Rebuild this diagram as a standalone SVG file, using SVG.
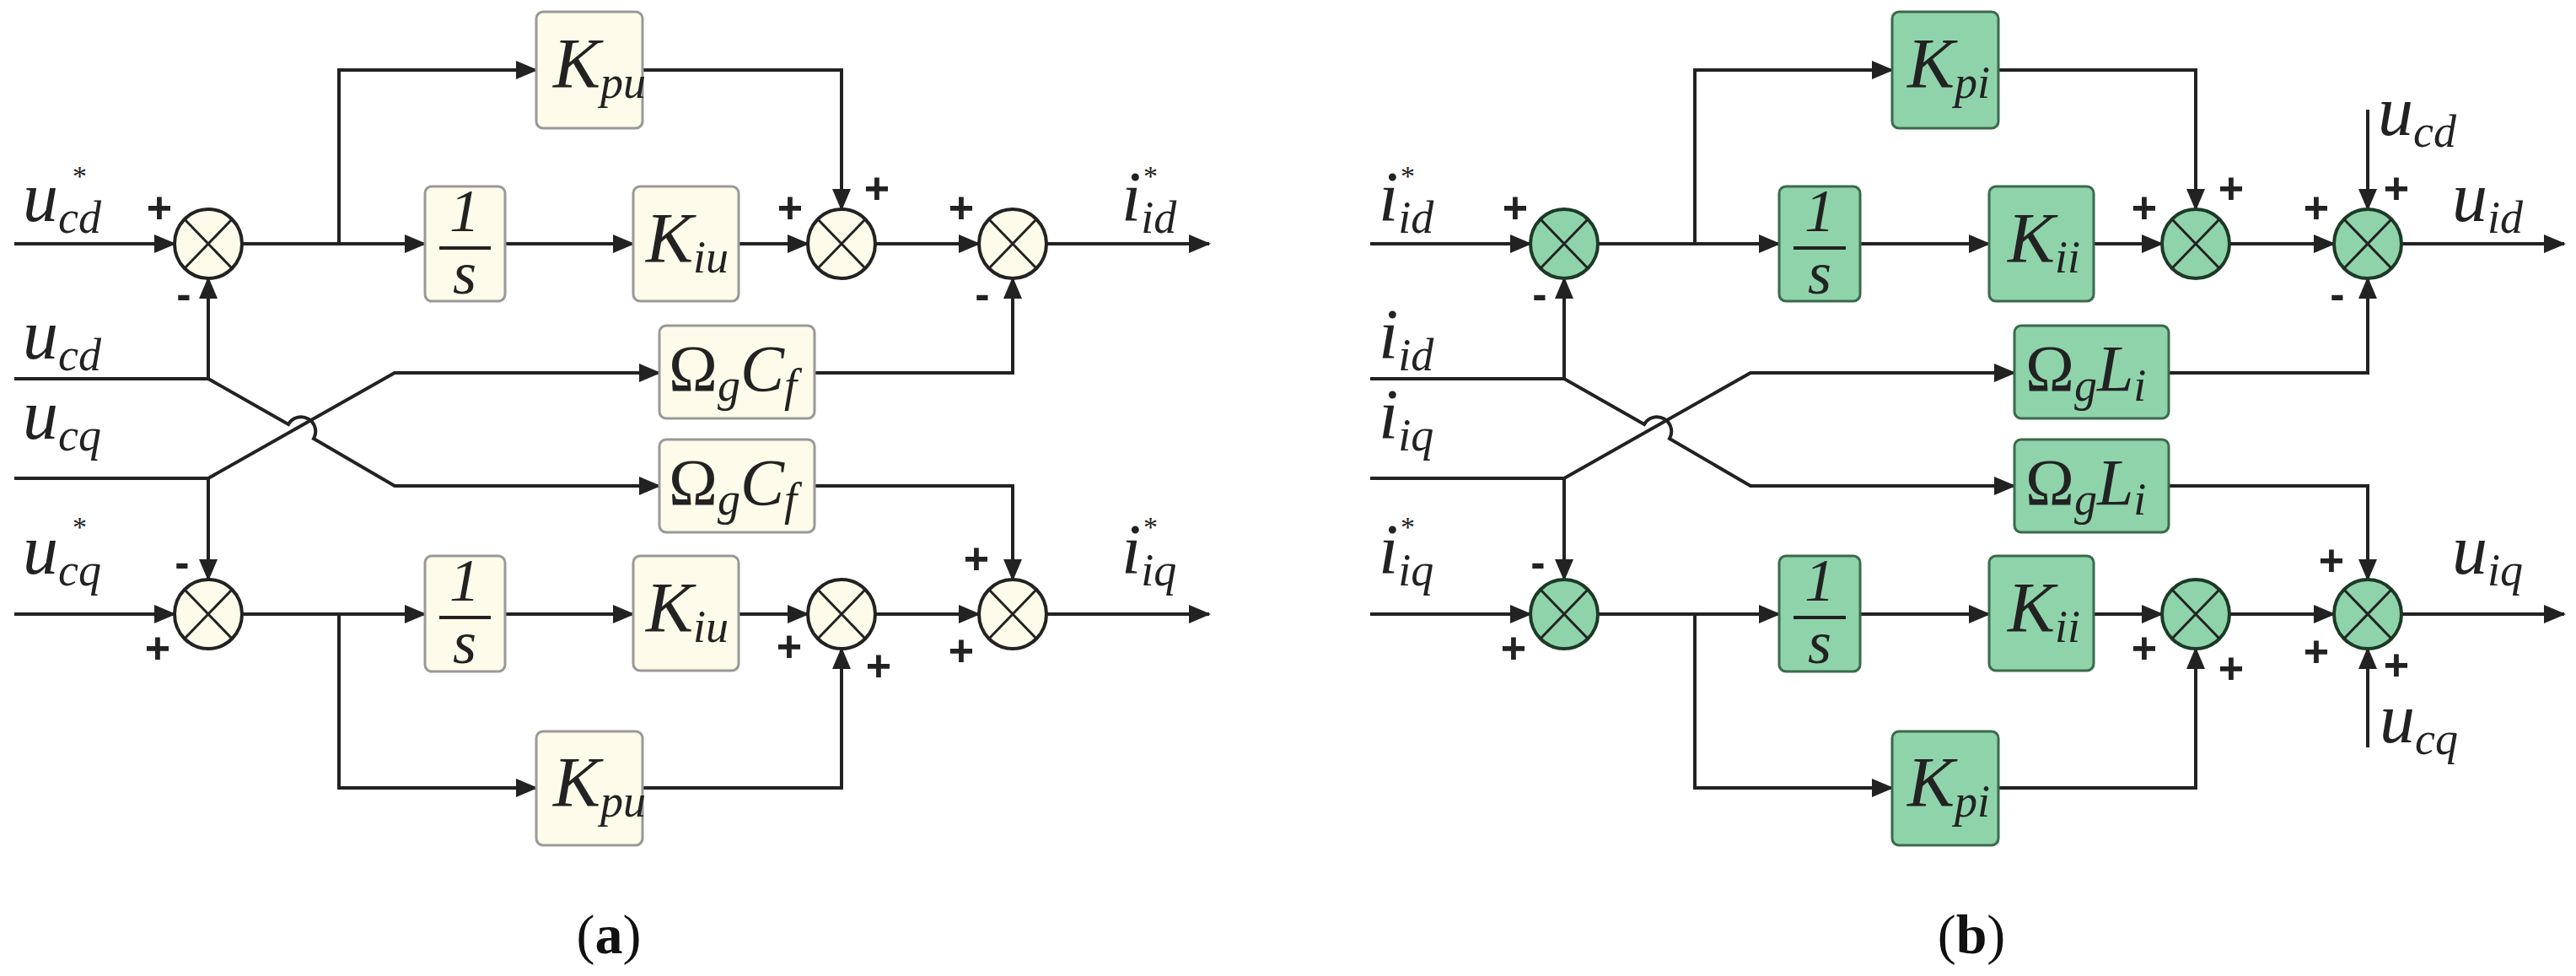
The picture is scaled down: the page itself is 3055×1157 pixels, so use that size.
<svg xmlns="http://www.w3.org/2000/svg" width="3055" height="1157" viewBox="0 0 3055 1157">
<style>
.l{fill:none;stroke:#222;stroke-width:4}
.a{fill:none;stroke:#222;stroke-width:4;marker-end:url(#ar)}
.by{fill:#fdfbe9;stroke:#999;stroke-width:3}
.cy{fill:#fdfbe9;stroke:#222;stroke-width:4}
.bg{fill:#8fd3ab;stroke:#3a6a4a;stroke-width:3}
.cg{fill:#8fd3ab;stroke:#1c3a26;stroke-width:4}
.x{stroke:#222;stroke-width:3}
.t{font-family:"Liberation Serif",serif;font-style:italic;font-size:84px;fill:#222}
.s{font-size:54px}
.st{font-family:"Liberation Serif",serif;font-size:34px;fill:#222}
.bt{font-family:"Liberation Serif",serif;font-size:72px;fill:#222;text-anchor:middle;font-style:italic}
.om{font-family:"Liberation Serif",serif;font-size:78px;fill:#222}
.sg{font-family:"Liberation Sans",sans-serif;font-weight:bold;font-size:52px;fill:#222;text-anchor:middle}
.cap{font-family:"Liberation Serif",serif;font-size:66px;fill:#111;text-anchor:middle}
</style>
<defs>
<marker id="ar" markerWidth="26" markerHeight="22" refX="24" refY="11" orient="auto" markerUnits="userSpaceOnUse"><path d="M0,0 L26,11 L0,22 Z" fill="#222"/></marker>
<g id="sumY"><ellipse cx="0" cy="0" rx="40" ry="41" class="cy"/><path d="M-28,-29 L28,29 M28,-29 L-28,29" class="x"/></g>
<g id="sumG"><ellipse cx="0" cy="0" rx="40" ry="41" class="cg"/><path d="M-28,-29 L28,29 M28,-29 L-28,29" class="x"/></g>
</defs>
<rect width="3055" height="1157" fill="#fff"/>

<g id="connectors">
<path d="M17,289 H207" class="a"/>
<path d="M287,289 H504" class="a"/>
<path d="M402,289 V83 H636" class="a"/>
<path d="M599,289 H751" class="a"/>
<path d="M876,289 H958" class="a"/>
<path d="M762,83 H998 V248" class="a"/>
<path d="M1038,289 H1161" class="a"/>
<path d="M1241,289 H1434" class="a"/>
<path d="M966,442 H1201 V330" class="a"/>
<path d="M17,449 H247 V330" class="a"/>
<path d="M247,449 L342,503 A16,16 0 0 1 372,520 L468,576 H782" class="a"/>
<path d="M17,567 H247 L468,442 H782" class="a"/>
<path d="M247,567 V687" class="a"/>
<path d="M17,728 H207" class="a"/>
<path d="M287,728 H504" class="a"/>
<path d="M402,728 V934 H636" class="a"/>
<path d="M599,728 H751" class="a"/>
<path d="M876,728 H958" class="a"/>
<path d="M762,934 H998 V769" class="a"/>
<path d="M1038,728 H1161" class="a"/>
<path d="M1241,728 H1434" class="a"/>
<path d="M966,576 H1201 V687" class="a"/>
<path d="M1625,289 H1815" class="a"/>
<path d="M1895,289 H2110" class="a"/>
<path d="M2010,289 V83 H2244" class="a"/>
<path d="M2206,289 H2359" class="a"/>
<path d="M2483,289 H2564" class="a"/>
<path d="M2370,83 H2604 V248" class="a"/>
<path d="M2644,289 H2768" class="a"/>
<path d="M2848,289 H3041" class="a"/>
<path d="M2808,130 V248" class="a"/>
<path d="M2572,442 H2808 V330" class="a"/>
<path d="M1625,449 H1855 V330" class="a"/>
<path d="M1855,449 L1950,503 A16,16 0 0 1 1980,520 L2076,576 H2389" class="a"/>
<path d="M1625,567 H1855 L2076,442 H2389" class="a"/>
<path d="M1855,567 V687" class="a"/>
<path d="M1625,728 H1815" class="a"/>
<path d="M1895,728 H2110" class="a"/>
<path d="M2010,728 V934 H2244" class="a"/>
<path d="M2206,728 H2359" class="a"/>
<path d="M2483,728 H2564" class="a"/>
<path d="M2370,934 H2604 V769" class="a"/>
<path d="M2644,728 H2768" class="a"/>
<path d="M2848,728 H3041" class="a"/>
<path d="M2572,576 H2808 V687" class="a"/>
<path d="M2808,886 V769" class="a"/>
</g>

<g id="a_sum1"><use href="#sumY" x="247" y="289"/></g>
<g id="a_sum2"><use href="#sumY" x="998" y="289"/></g>
<g id="a_sum3"><use href="#sumY" x="1201" y="289"/></g>
<g id="a_sum4"><use href="#sumY" x="247" y="728"/></g>
<g id="a_sum5"><use href="#sumY" x="998" y="728"/></g>
<g id="a_sum6"><use href="#sumY" x="1201" y="728"/></g>
<g id="a_kpu1"><rect x="636" y="14" width="126" height="138" rx="8" class="by"/><text x="656" y="104" class="t">K<tspan class="s" dy="12">pu</tspan></text></g>
<g id="a_int1"><rect x="504" y="221" width="95" height="136" rx="8" class="by"/><text x="551" y="274" class="bt">1</text><path d="M521,294 H582" stroke="#222" stroke-width="4"/><text x="551" y="348" class="bt">s</text></g>
<g id="a_kiu1"><rect x="751" y="221" width="125" height="136" rx="8" class="by"/><text x="766" y="311" class="t">K<tspan class="s" dy="12">iu</tspan></text></g>
<g id="a_om1"><rect x="782" y="386" width="184" height="110" rx="8" class="by"/><text x="793" y="463" class="om">Ω<tspan class="s" font-style="italic" dy="12">g</tspan><tspan font-style="italic" dy="-12">C</tspan><tspan class="s" font-style="italic" dy="12">f</tspan></text></g>
<g id="a_om2"><rect x="782" y="521" width="184" height="110" rx="8" class="by"/><text x="793" y="598" class="om">Ω<tspan class="s" font-style="italic" dy="12">g</tspan><tspan font-style="italic" dy="-12">C</tspan><tspan class="s" font-style="italic" dy="12">f</tspan></text></g>
<g id="a_int2"><rect x="504" y="659" width="95" height="137" rx="8" class="by"/><text x="551" y="712" class="bt">1</text><path d="M521,732 H582" stroke="#222" stroke-width="4"/><text x="551" y="786" class="bt">s</text></g>
<g id="a_kiu2"><rect x="751" y="659" width="125" height="136" rx="8" class="by"/><text x="766" y="749" class="t">K<tspan class="s" dy="12">iu</tspan></text></g>
<g id="a_kpu2"><rect x="636" y="867" width="126" height="135" rx="8" class="by"/><text x="656" y="956" class="t">K<tspan class="s" dy="12">pu</tspan></text></g>

<g id="b_sum1"><use href="#sumG" x="1855" y="289"/></g>
<g id="b_sum2"><use href="#sumG" x="2604" y="289"/></g>
<g id="b_sum3"><use href="#sumG" x="2808" y="289"/></g>
<g id="b_sum4"><use href="#sumG" x="1855" y="728"/></g>
<g id="b_sum5"><use href="#sumG" x="2604" y="728"/></g>
<g id="b_sum6"><use href="#sumG" x="2808" y="728"/></g>
<g id="b_kpi1"><rect x="2244" y="14" width="126" height="138" rx="8" class="bg"/><text x="2262" y="104" class="t">K<tspan class="s" dy="12">pi</tspan></text></g>
<g id="b_int1"><rect x="2110" y="221" width="96" height="136" rx="8" class="bg"/><text x="2158" y="274" class="bt">1</text><path d="M2127,294 H2189" stroke="#222" stroke-width="4"/><text x="2158" y="348" class="bt">s</text></g>
<g id="b_kii1"><rect x="2359" y="221" width="124" height="136" rx="8" class="bg"/><text x="2381" y="311" class="t">K<tspan class="s" dy="12">ii</tspan></text></g>
<g id="b_om1"><rect x="2389" y="386" width="183" height="110" rx="8" class="bg"/><text x="2402" y="463" class="om">Ω<tspan class="s" font-style="italic" dy="12">g</tspan><tspan font-style="italic" dy="-12">L</tspan><tspan class="s" font-style="italic" dy="12">i</tspan></text></g>
<g id="b_om2"><rect x="2389" y="521" width="183" height="110" rx="8" class="bg"/><text x="2402" y="598" class="om">Ω<tspan class="s" font-style="italic" dy="12">g</tspan><tspan font-style="italic" dy="-12">L</tspan><tspan class="s" font-style="italic" dy="12">i</tspan></text></g>
<g id="b_int2"><rect x="2110" y="659" width="96" height="137" rx="8" class="bg"/><text x="2158" y="712" class="bt">1</text><path d="M2127,732 H2189" stroke="#222" stroke-width="4"/><text x="2158" y="786" class="bt">s</text></g>
<g id="b_kii2"><rect x="2359" y="659" width="124" height="136" rx="8" class="bg"/><text x="2381" y="749" class="t">K<tspan class="s" dy="12">ii</tspan></text></g>
<g id="b_kpi2"><rect x="2244" y="867" width="126" height="135" rx="8" class="bg"/><text x="2262" y="956" class="t">K<tspan class="s" dy="12">pi</tspan></text></g>

<g id="labels">
<text x="27" y="262" class="t">u<tspan class="s" dy="14">cd</tspan></text>
<text x="86" y="220" class="st">*</text>
<text x="27" y="425" class="t">u<tspan class="s" dy="14">cd</tspan></text>
<text x="27" y="520" class="t">u<tspan class="s" dy="14">cq</tspan></text>
<text x="27" y="680" class="t">u<tspan class="s" dy="14">cq</tspan></text>
<text x="86" y="636" class="st">*</text>
<text x="1330" y="262" class="t">i<tspan class="s" dy="14">id</tspan></text>
<text x="1356" y="220" class="st">*</text>
<text x="1330" y="680" class="t">i<tspan class="s" dy="14">iq</tspan></text>
<text x="1356" y="636" class="st">*</text>
<text x="1635" y="262" class="t">i<tspan class="s" dy="14">id</tspan></text>
<text x="1661" y="220" class="st">*</text>
<text x="1635" y="425" class="t">i<tspan class="s" dy="14">id</tspan></text>
<text x="1635" y="520" class="t">i<tspan class="s" dy="14">iq</tspan></text>
<text x="1635" y="680" class="t">i<tspan class="s" dy="14">iq</tspan></text>
<text x="1661" y="636" class="st">*</text>
<text x="2820" y="160" class="t">u<tspan class="s" dy="14">cd</tspan></text>
<text x="2908" y="262" class="t">u<tspan class="s" dy="14">id</tspan></text>
<text x="2908" y="680" class="t">u<tspan class="s" dy="14">iq</tspan></text>
<text x="2822" y="880" class="t">u<tspan class="s" dy="14">cq</tspan></text>
</g>
<g id="signs">
<text x="189" y="264" class="sg">+</text><text x="218" y="366" class="sg">-</text>
<text x="937" y="264" class="sg">+</text><text x="1040" y="241" class="sg">+</text>
<text x="1140" y="264" class="sg">+</text><text x="1165" y="366" class="sg">-</text>
<text x="216" y="684" class="sg">-</text><text x="187" y="786" class="sg">+</text>
<text x="936" y="784" class="sg">+</text><text x="1042" y="807" class="sg">+</text>
<text x="1158" y="680" class="sg">+</text><text x="1140" y="789" class="sg">+</text>
<text x="1797" y="264" class="sg">+</text><text x="1826" y="366" class="sg">-</text>
<text x="2543" y="264" class="sg">+</text><text x="2646" y="241" class="sg">+</text>
<text x="2747" y="264" class="sg">+</text><text x="2842" y="241" class="sg">+</text><text x="2772" y="366" class="sg">-</text>
<text x="1824" y="684" class="sg">-</text><text x="1795" y="786" class="sg">+</text>
<text x="2543" y="786" class="sg">+</text><text x="2646" y="810" class="sg">+</text>
<text x="2765" y="682" class="sg">+</text><text x="2747" y="790" class="sg">+</text><text x="2842" y="806" class="sg">+</text>
</g>
<text x="722" y="1130" class="cap">(<tspan font-weight="bold">a</tspan>)</text>
<text x="2338" y="1130" class="cap">(<tspan font-weight="bold">b</tspan>)</text>
</svg>
